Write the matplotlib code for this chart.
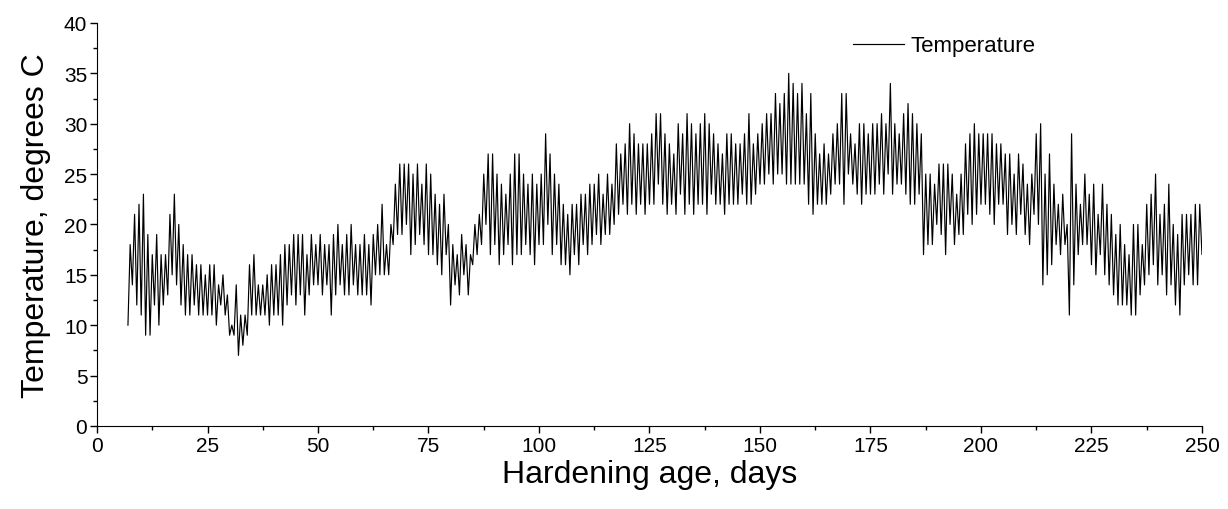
import numpy as np
import matplotlib.pyplot as plt
from matplotlib.ticker import MultipleLocator

plt.rcParams['font.family'] = ['Liberation Sans', 'DejaVu Sans']

# daily readings, hardening age 7..250 days
days = np.arange(7, 251)
daily_high = [
    18, 21, 22, 23, 19, 17, 19, 17, 17,
    21, 23, 20, 18, 17,
    17, 16, 16, 15, 16, 16, 14, 15, 13, 10,
    14, 11, 11,
    16, 17, 14, 14, 15, 16, 16,
    17, 18, 18, 19, 19, 19, 17, 19, 18, 19,
    18, 18, 19, 20, 18, 19, 20, 18, 18, 19,
    18, 19, 20, 22, 18, 20,
    24, 26, 26, 26, 25, 26, 24, 26, 25,
    23, 22, 23, 20, 18, 17, 19, 18, 17, 20,
    21, 25, 27, 27, 25, 24, 23, 25, 27, 27,
    25, 24, 25, 24, 25, 29, 27, 25, 24, 22,
    21, 22, 22, 23, 23, 24, 24, 25, 23, 25,
    24, 28, 27, 28, 30, 29, 28, 28, 28, 29,
    31, 31, 29, 28, 27, 30, 29, 31, 30, 29,
    30, 31, 30, 29, 28, 27, 29, 29, 28, 28,
    29, 31, 28, 29, 30, 31, 31, 33, 32, 33,
    35, 34, 33, 34, 31, 33, 29, 27, 28, 27,
    29, 30, 33, 33, 29, 28, 30, 30, 29, 30,
    30, 31, 30, 34, 30, 29, 31, 32, 31, 30, 29,
    25, 25, 24, 26, 26, 26, 25, 23, 25,
    28, 29, 30, 29, 29, 29, 29, 28, 28, 27,
    27, 25, 27, 26, 24, 25, 29, 30, 25, 27,
    24, 22, 23, 20, 29, 24, 22, 25, 23, 24,
    21, 24, 22, 21, 19, 20, 18, 17, 20, 20,
    18, 22, 23, 25, 21, 22, 24, 20, 19, 21,
    21, 21, 22, 22, 20,
]
daily_low = [
    10, 14, 12, 11, 9, 9, 12, 10, 12,
    13, 15, 14, 12, 11,
    11, 12, 11, 11, 11, 11, 10, 12, 11, 9,
    9, 7, 8,
    9, 11, 11, 11, 11, 10, 11,
    11, 10, 12, 13, 12, 13, 11, 13, 14, 14,
    13, 14, 11, 13, 14, 13, 13, 14, 13, 13,
    13, 12, 15, 15, 15, 15,
    18, 19, 19, 20, 17, 18, 19, 18, 17,
    17, 16, 15, 17, 12, 14, 13, 15, 13, 16,
    17, 18, 20, 17, 18, 16, 17, 18, 16, 17,
    17, 18, 17, 16, 18, 18, 20, 17, 18, 16,
    16, 15, 17, 16, 18, 17, 18, 19, 18, 19,
    19, 20, 21, 22, 21, 22, 21, 22, 21, 22,
    22, 24, 22, 21, 22, 21, 23, 21, 22, 21,
    22, 22, 21, 23, 22, 22, 21, 22, 22, 22,
    23, 22, 22, 23, 24, 24, 25, 24, 25, 25,
    24, 24, 24, 24, 24, 22, 21, 22, 22, 22,
    23, 24, 24, 22, 25, 24, 23, 22, 23, 23,
    23, 24, 23, 25, 23, 24, 24, 23, 22, 22, 23,
    17, 18, 18, 20, 19, 17, 20, 18, 19,
    19, 21, 20, 21, 22, 22, 21, 20, 22, 22,
    19, 20, 19, 21, 19, 18, 21, 20, 14, 15,
    16, 18, 17, 18, 11, 14, 17, 18, 18, 16,
    15, 17, 15, 14, 13, 12, 12, 12, 11, 11,
    13, 14, 15, 16, 14, 15, 13, 14, 12, 11,
    14, 15, 14, 14, 17,
]

# interleave: morning low, afternoon high
t = np.empty(2 * len(days))
temp = np.empty(2 * len(days))
t[0::2] = days
t[1::2] = days + 0.5
temp[0::2] = daily_low
temp[1::2] = daily_high

fig = plt.figure(figsize=(12.28, 5.10), dpi=100)
ax = fig.add_axes([0.079, 0.163, 0.8998, 0.790])

ax.plot(t, temp, color='black', linewidth=0.85, label='Temperature')

ax.set_xlim(0, 250)
ax.set_ylim(0, 40)
ax.xaxis.set_major_locator(MultipleLocator(25))
ax.xaxis.set_minor_locator(MultipleLocator(12.5))
ax.yaxis.set_major_locator(MultipleLocator(5))
ax.yaxis.set_minor_locator(MultipleLocator(2.5))
ax.tick_params(which='major', direction='out', length=5, width=1,
               labelsize=15, pad=2)
ax.tick_params(which='minor', direction='out', length=3, width=1)
for s in ['top', 'right']:
    ax.spines[s].set_visible(False)

ax.set_xlabel('Hardening age, days', fontsize=23, labelpad=3)
ax.set_ylabel('Temperature, degrees C', fontsize=23, labelpad=9)

ax.legend(loc='center left', bbox_to_anchor=(0.666, 0.943), frameon=False,
          fontsize=16, handlelength=2.3, handletextpad=0.3)

plt.savefig('out.png', dpi=100)
